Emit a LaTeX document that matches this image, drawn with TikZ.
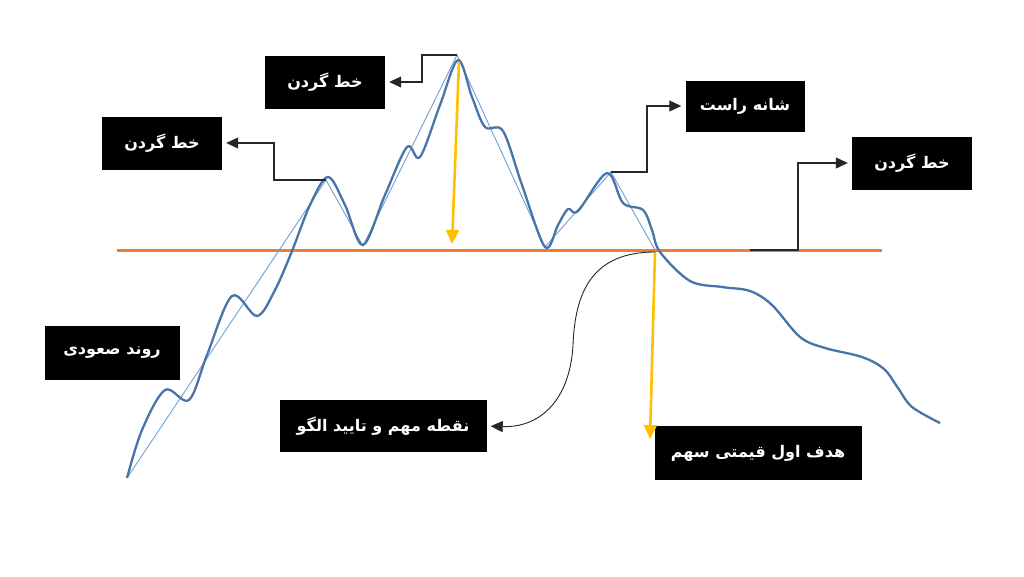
\documentclass[tikz,border=0pt]{standalone}
\usepackage{fontspec}
\usepackage{tikz}
\usetikzlibrary{positioning,arrows.meta,calc}
\TeXXeTstate=1
\newfontfamily\farsi[Script=Arabic]{DejaVu Sans}
\definecolor{neckorange}{RGB}{237,125,49}
\definecolor{targetyellow}{RGB}{255,192,0}
\definecolor{pricegray}{RGB}{72,116,170}
\definecolor{trendblue}{RGB}{108,160,214}
\tikzset{
    x=1pt,
    y=-1pt,
    box/.style = {
        fill=black,
        text=white,
        shape=rectangle,
        minimum width=120pt,
        minimum height=53pt,
        inner sep=0pt,
        font=\farsi\bfseries\fontsize{16}{19}\selectfont
    },
    conn/.style = {
        draw=black!85,
        line width=1.1pt,
        shorten >=4pt,
        -{Triangle[length=12pt,width=11pt]}
    },
    target/.style = {
        draw=targetyellow,
        line width=2.6pt,
        -{Triangle[length=14pt,width=13pt]}
    },
}
\begin{document}
\begin{tikzpicture}
                \useasboundingbox[fill=white] (0,0) rectangle (1024,576);

                % text boxes
                \node[box] (neckTop) at (325,82) {\beginR خط گردن\endR};
                \node[box] (neckLeft) at (162,143) {\beginR خط گردن\endR};
                \node[box, minimum width=119pt, minimum height=51pt] (shoulder) at (745,106) {\beginR شانه راست\endR};
                \node[box] (neckRight) at (912,163) {\beginR خط گردن\endR};
                \node[box, minimum width=135pt, minimum height=54pt] (uptrend) at (112,353) {\beginR روند صعودی\endR};
                \node[box, minimum width=207pt, minimum height=52pt] (keyPt) at (383,426) {\beginR نقطه مهم و تایید الگو\endR};
                \node[box, minimum width=207pt, minimum height=54pt] (firstTarget) at (758,453) {\beginR هدف اول قیمتی سهم\endR};

                % points on the chart
                \coordinate (nlA) at (117,250);
                \coordinate (nlB) at (882,250);
                \coordinate (headTop) at (457,55);
                \coordinate (headTip) at (459,62);
                \coordinate (headFoot) at (452,244);
                \coordinate (lsh) at (326,180);
                \coordinate (rsh) at (611,172);
                \coordinate (neckStart) at (750,250);
                \coordinate (breakPt) at (655,252);
                \coordinate (breakFoot) at (650,439);
                \coordinate (kneeTop) at (422,82);
                \coordinate (kneeL) at (274,143);
                \coordinate (kneeR) at (647,106);
                \coordinate (kneeN) at (798,163);

                % neckline
                \path[draw, neckorange, line width=3pt] (nlA) -- (nlB);

                % trend lines
                \path[draw, trendblue, line width=0.9pt] (127,478) -- (lsh) -- (363,246) -- (headTop)
                    -- (545,247) -- (rsh) -- (655,250);

                % price
                \path[draw, pricegray, line width=2.3pt, line join=round]
                    plot[smooth, tension=0.55] coordinates {
                    (127,478) (142,430) (165,390) (189,400) (207,355) (232,296) (257,316)
                    (275,290) (292,251) (310,205) (328,177) (345,205) (363,245) (385,195)
                    (407,147) (420,157) (440,105) (458,60) (472,97) (485,127) (503,131)
                    (522,185) (545,247) (558,225) (568,209) (578,211) (607,173) (623,203)
                    (643,210) (652,230) (660,252) (690,281) (722,287) (750,291) (772,305)
                    (800,337) (825,348) (862,357) (884,369) (898,388) (912,407) (940,423)};

                % targets
                \path[draw, target] (headTip) -- (headFoot);
                \path[draw, target] (breakPt) -- (breakFoot);

                % labels
                \path[draw, conn] (headTop) -| (kneeTop) -- (neckTop.east);
                \path[draw, conn] (lsh) -| (kneeL) -- (neckLeft.east);
                \path[draw, conn] (rsh) -| (kneeR) -- (shoulder.west);
                \path[draw, conn] (neckStart) -| (kneeN) -- (neckRight.west);
                \path[draw, conn, line width=0.9pt] (breakPt) .. controls (590,252) and (575,295) .. (573,345)
                    .. controls (570,400) and (540,428) .. (keyPt.east);
            \end{tikzpicture}
\end{document}
